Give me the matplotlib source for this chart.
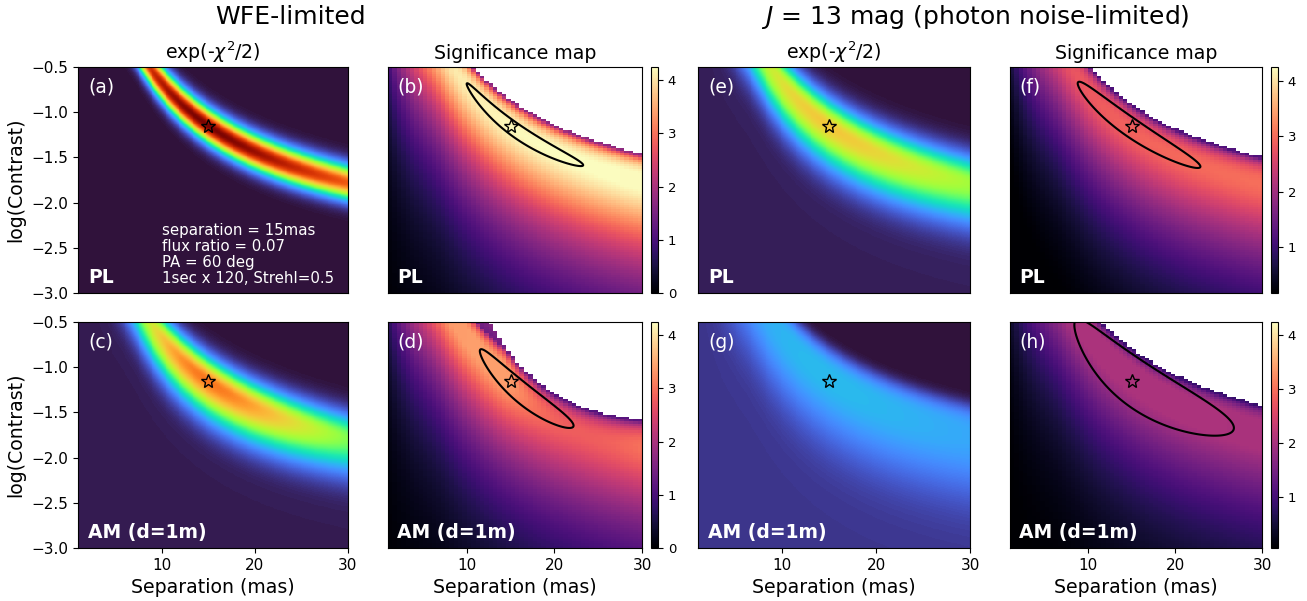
import numpy as np
import matplotlib
matplotlib.use('Agg')
import matplotlib.pyplot as plt

# ---- axes ranges / grids of the maps
sep_lo, sep_hi = 1.0, 30.0
logc_lo, logc_hi = -3.0, -0.5
sig_sep_step, sig_logc_step = 0.5, 0.025      # coarse grid of the significance maps
chi_sep_step, chi_logc_step = 0.1, 0.005

# ---- injected companion (star marker)
sep_true = 15.0
logc_true = -1.15

# ---- degeneracy ridge, L = log10(sep / 15)
ridge_b1, ridge_b2 = -2.46, 1.22
ridge_knee = -0.35
ridge_far_slope = -1.5

# ---- panels, order: WFE/PL, WFE/AM, J13/PL, J13/AM
chi_tags = ['(a)', '(c)', '(e)', '(g)']
sig_tags = ['(b)', '(d)', '(f)', '(h)']
mode_names = ['PL', 'AM (d=1m)', 'PL', 'AM (d=1m)']

# exp(-chi^2/2) maps (turbo scale 0..1)
chi_peak = [1.0, 0.76, 0.64, 0.25]
chi_w_up = [0.13, 0.18, 0.20, 0.30]
chi_w_lo = [0.13, 0.27, 0.30, 0.45]
chi_p_up = [2, 2, 2, 4]
chi_floor = [0.0, 0.02, 0.03, 0.20]
chi_rho_w = [0.45, 0.3, 0.43, 0.6]

# significance maps (magma); NaN edge at logC - ridge = dm0 + dm1*L + dm2*L^2
sig_peak = [4.25, 3.4, 3.1, 2.05]
sig_dm0 = [0.29, 0.297, 0.245, 0.36]
sig_dm1 = [0.10, -1.754, 0.14, 0.0]
sig_dm2 = [0.0, 4.76, 0.0, 0.0]
sig_dm_cap = [0.33, 0.33, 0.33, 0.37]
sig_edge_floor = 0.04
sig_rho_w = [3.0, 2.0, 2.0, 2.0]
sig_vmin = [0.0, 0.0, 0.17, 0.05]
sig_vmax = 4.25

# contour around the best fit: ellipse in (L, logC - ridge - centre line)
cont_Lc = [0.007, 0.027, -0.024, 0.0]
cont_hL = [0.184, 0.143, 0.208, 0.2515]
cont_hd = [0.09, 0.14, 0.125, 0.30]
cont_d0 = [-0.01, -0.03, -0.025, 0.0]
cont_a1 = [0.0, -0.49, 0.221, 0.19]
cont_a2 = [0.0, 0.0, -1.65, -0.44]

col_titles = ['WFE-limited', '$J$ = 13 mag (photon noise-limited)']
info_text = 'separation = 15mas\nflux ratio = 0.07\nPA = 60 deg\n1sec x 120, Strehl=0.5'


def ridge(sep):
    Lf = np.linspace(np.log10(sep_lo / sep_true) - 0.05, np.log10(sep_hi / sep_true) + 0.05, 4001)
    w = 0.5 * (1 + np.tanh((Lf - ridge_knee) / 0.08))
    slope = w * (ridge_b1 + 2 * ridge_b2 * Lf) + (1 - w) * ridge_far_slope
    cum = np.concatenate([[0], np.cumsum(0.5 * (slope[1:] + slope[:-1]) * np.diff(Lf))])
    cum = cum - np.interp(0.0, Lf, cum) + logc_true
    return np.interp(np.log10(sep / sep_true), Lf, cum)


def grid(ds, dc):
    se = np.arange(sep_lo, sep_hi + ds / 2, ds)
    ce = np.arange(logc_lo, logc_hi + dc / 2, dc)
    sc = 0.5 * (se[1:] + se[:-1])
    cc = 0.5 * (ce[1:] + ce[:-1])
    S, C = np.meshgrid(sc, cc)
    return S, C


def chi_map(i, S, C):
    L = np.log10(S / sep_true)
    d = C - ridge(S)
    rho = np.exp(-0.5 * (L / chi_rho_w[i]) ** 2)
    up = rho * np.exp(-0.5 * np.abs(d / chi_w_up[i]) ** chi_p_up[i])
    f0 = chi_floor[i]
    lo = f0 + (rho - f0) * np.exp(-0.5 * (d / chi_w_lo[i]) ** 2)
    return chi_peak[i] * np.where(d >= 0, up, lo)


def sig_map(i, S, C):
    L = np.log10(S / sep_true)
    u = 10 ** (C - ridge(S))
    dm = sig_dm0[i] + sig_dm1[i] * L + sig_dm2[i] * L ** 2
    um = 10 ** dm
    um_s = 10 ** np.minimum(dm, sig_dm_cap[i])
    rho = np.exp(-0.5 * (L / sig_rho_w[i]) ** 2)
    f = np.sqrt(2 * u * np.maximum(1 - u / um_s, sig_edge_floor))
    out = sig_peak[i] * rho * np.minimum(f, 1.0)
    return np.where(u > um, np.nan, out)


W, H = 1307, 601
fig = plt.figure(figsize=(W / 100, H / 100), dpi=100)


def px_axes(l, r, t, b):
    return fig.add_axes([l / W, 1 - b / H, (r - l) / W, (b - t) / H])


rows = [(67, 293), (322, 548)]
chi_cols = [(78, 348), (698, 970)]
sig_cols = [(388, 642), (1010, 1262)]
cb_cols = [(651, 658), (1271, 1278)]

Sc, Cc = grid(chi_sep_step, chi_logc_step)
Ss, Cs = grid(sig_sep_step, sig_logc_step)
Sf, Cf = np.meshgrid(np.linspace(sep_lo, sep_hi, 600), np.linspace(logc_lo, logc_hi, 600))
ext = [sep_lo, sep_hi, logc_lo, logc_hi]
magma = plt.get_cmap('magma').copy()
magma.set_bad('white')

lab_fs = 13.6
tick_fs = 11

for i in range(4):
    col = i // 2
    row = i % 2
    t, b = rows[row]

    # exp(-chi^2/2)
    ax = px_axes(*chi_cols[col], t, b)
    ax.imshow(chi_map(i, Sc, Cc), extent=ext, origin='lower', aspect='auto',
              cmap='turbo', vmin=0, vmax=1, interpolation='nearest')
    ax.plot(sep_true, logc_true, marker='*', ms=10, mfc='none', mec='k', mew=1.0)
    ax.set_xlim(sep_lo, sep_hi)
    ax.set_ylim(logc_lo, logc_hi)
    ax.text(0.037, 0.91, chi_tags[i], transform=ax.transAxes, color='white',
            fontsize=13.5, va='center')
    ax.text(0.037, 0.07, mode_names[i], transform=ax.transAxes, color='white',
            fontsize=13.5, fontweight='bold', va='center')
    if i == 0:
        ax.text(0.31, 0.03, info_text, transform=ax.transAxes, color='white',
                fontsize=10.8, va='bottom', linespacing=1.1)
    if row == 0:
        ax.set_title('exp(-$\\chi^2$/2)', fontsize=lab_fs)
        ax.set_xticks([])
    else:
        ax.set_xticks([10, 20, 30])
        ax.set_xlabel('Separation (mas)', fontsize=lab_fs)
    if col == 0:
        ax.set_yticks([-0.5, -1.0, -1.5, -2.0, -2.5, -3.0])
        ax.set_ylabel('log(Contrast)', fontsize=lab_fs)
    else:
        ax.set_yticks([])
    ax.tick_params(labelsize=tick_fs)

    # significance map
    ax = px_axes(*sig_cols[col], t, b)
    im = ax.imshow(sig_map(i, Ss, Cs), extent=ext, origin='lower', aspect='auto',
                   cmap=magma, vmin=sig_vmin[i], vmax=sig_vmax, interpolation='nearest')
    Lf = np.log10(Sf / sep_true)
    dc = cont_d0[i] + cont_a1[i] * Lf + cont_a2[i] * Lf ** 2
    q = ((Lf - cont_Lc[i]) / cont_hL[i]) ** 2 + ((Cf - ridge(Sf) - dc) / cont_hd[i]) ** 2
    ax.contour(Sf, Cf, q, levels=[1.0], colors='k', linewidths=1.5)
    ax.plot(sep_true, logc_true, marker='*', ms=10, mfc='none', mec='k', mew=1.0)
    ax.set_xlim(sep_lo, sep_hi)
    ax.set_ylim(logc_lo, logc_hi)
    ax.text(0.037, 0.91, sig_tags[i], transform=ax.transAxes, color='white',
            fontsize=13.5, va='center')
    ax.text(0.037, 0.07, mode_names[i], transform=ax.transAxes, color='white',
            fontsize=13.5, fontweight='bold', va='center')
    ax.set_yticks([])
    if row == 0:
        ax.set_title('Significance map', fontsize=lab_fs)
        ax.set_xticks([])
    else:
        ax.set_xticks([10, 20, 30])
        ax.set_xlabel('Separation (mas)', fontsize=lab_fs)
    ax.tick_params(labelsize=tick_fs)

    cax = px_axes(*cb_cols[col], t, b)
    cb = fig.colorbar(im, cax=cax, ticks=[0, 1, 2, 3, 4])
    cb.ax.tick_params(labelsize=9.5)

fig.text(290 / W, 1 - 17 / H, col_titles[0], ha='center', va='center', fontsize=18)
fig.text(975 / W, 1 - 17 / H, col_titles[1], ha='center', va='center', fontsize=18)

fig.savefig('out.png', dpi=100)
